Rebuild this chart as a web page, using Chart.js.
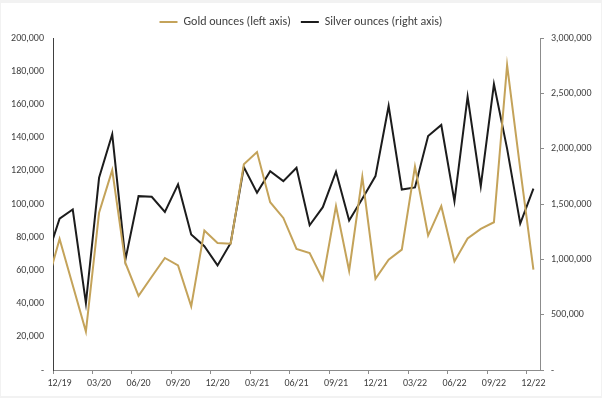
<!DOCTYPE html>
<html>
<head>
<meta charset="utf-8">
<script src="https://cdn.jsdelivr.net/npm/chart.js@4/dist/chart.umd.min.js"></script>
<style>
  html, body { margin: 0; padding: 0; background: #f2f2f2; }
  #wrap { position: absolute; left: 1px; top: 3px; width: 600px; height: 393px; background: #fff; }
</style>
</head>
<body>
<div id="wrap"><canvas id="chart"></canvas></div>
<script>
// === DATA ===
// first month (11/19) sits just left of the axis and is clipped, as in the original
const months = ['11/19',
  '12/19', '01/20', '02/20', '03/20', '04/20', '05/20', '06/20', '07/20', '08/20', '09/20', '10/20', '11/20',
  '12/20', '01/21', '02/21', '03/21', '04/21', '05/21', '06/21', '07/21', '08/21', '09/21', '10/21', '11/21',
  '12/21', '01/22', '02/22', '03/22', '04/22', '05/22', '06/22', '07/22', '08/22', '09/22', '10/22', '11/22',
  '12/22'];

const goldOunces = [50600,
  79000, 51000, 23200, 94700, 120400, 64500, 44700, 56200, 67500, 63000, 38300, 84000,
  76500, 76100, 123900, 131300, 101100, 91600, 72900, 70500, 54400, 98700, 59800, 116400,
  55000, 66500, 72500, 122500, 81000, 98700, 65400, 79200, 85000, 89000, 183700, 121000,
  60400];

const silverOunces = [1002000,
  1368000, 1450000, 604000, 1737000, 2130000, 997000, 1571000, 1565000, 1429000, 1677000, 1224000, 1118000,
  945000, 1148000, 1834000, 1601000, 1797000, 1707000, 1828000, 1308000, 1471000, 1792000, 1350000, 1547000,
  1752000, 2386000, 1631000, 1650000, 2115000, 2214000, 1526000, 2471000, 1661000, 2583000, 2000000, 1323000,
  1638000];

const seriesNames = ['Gold ounces (left axis)', 'Silver ounces (right axis)'];

// === STYLE ===
const GOLD = '#C4A35A';
const SILVER = '#1c1c1c';
const FONT = 'Carlito, Lato, sans-serif';
const TEXT = '#404040';

const fmt = v => v === 0 ? '-' : v.toLocaleString('en-US');

// === CHART ===
new Chart(document.getElementById('chart'), {
  type: 'line',
  data: {
    labels: months,
    datasets: [{
      label: seriesNames[0],
      data: goldOunces,
      borderColor: GOLD,
      backgroundColor: GOLD,
      borderWidth: 2,
      pointRadius: 0,
      tension: 0,
      yAxisID: 'yLeft'
    }, {
      label: seriesNames[1],
      data: silverOunces,
      borderColor: SILVER,
      backgroundColor: SILVER,
      borderWidth: 2,
      pointRadius: 0,
      tension: 0,
      yAxisID: 'yRight'
    }]
  },
  options: {
    responsive: true,
    maintainAspectRatio: false,
    animation: false,
    layout: { padding: { top: 3, left: 0, right: 0, bottom: 0 } },
    plugins: {
      tooltip: { enabled: false },
      legend: {
        position: 'top',
        labels: {
          color: TEXT,
          font: { family: FONT, size: 12 },
          boxWidth: 18,
          boxHeight: 2,
          padding: 10,
          generateLabels: chart => Chart.defaults.plugins.legend.labels.generateLabels(chart)
            .map(l => ({ ...l, lineWidth: 0, fillStyle: l.strokeStyle }))
        }
      }
    },
    scales: {
      x: {
        type: 'category',
        min: '12/19',
        offset: true,
        border: { color: '#8c8c8c', width: 1 },
        grid: {
          offset: true,
          drawOnChartArea: false,
          tickLength: 4,
          color: c => c.index % 3 === 0 ? '#8c8c8c' : 'rgba(0,0,0,0)'
        },
        ticks: {
          autoSkip: false,
          maxRotation: 0,
          padding: 3,
          color: TEXT,
          font: { family: FONT, size: 10 },
          callback: function (value, index) {
            return index % 3 === 0 ? this.getLabelForValue(value) : '';
          }
        },
        afterFit: s => { s.height = 26; }
      },
      yLeft: {
        position: 'left',
        min: 0,
        max: 200000,
        border: { color: '#404040', width: 1 },
        grid: { display: false, drawTicks: false },
        ticks: {
          stepSize: 20000,
          padding: 9,
          color: TEXT,
          font: { family: FONT, size: 10 },
          callback: fmt
        },
        afterFit: s => { s.width = 52; }
      },
      yRight: {
        position: 'right',
        min: 0,
        max: 3000000,
        border: { color: '#8c8c8c', width: 1 },
        grid: { drawOnChartArea: false, tickLength: 4, color: '#8c8c8c' },
        ticks: {
          stepSize: 500000,
          padding: 7,
          color: TEXT,
          font: { family: FONT, size: 10 },
          callback: fmt
        },
        afterFit: s => { s.width = 61; }
      }
    }
  }
});
</script>
</body>
</html>
